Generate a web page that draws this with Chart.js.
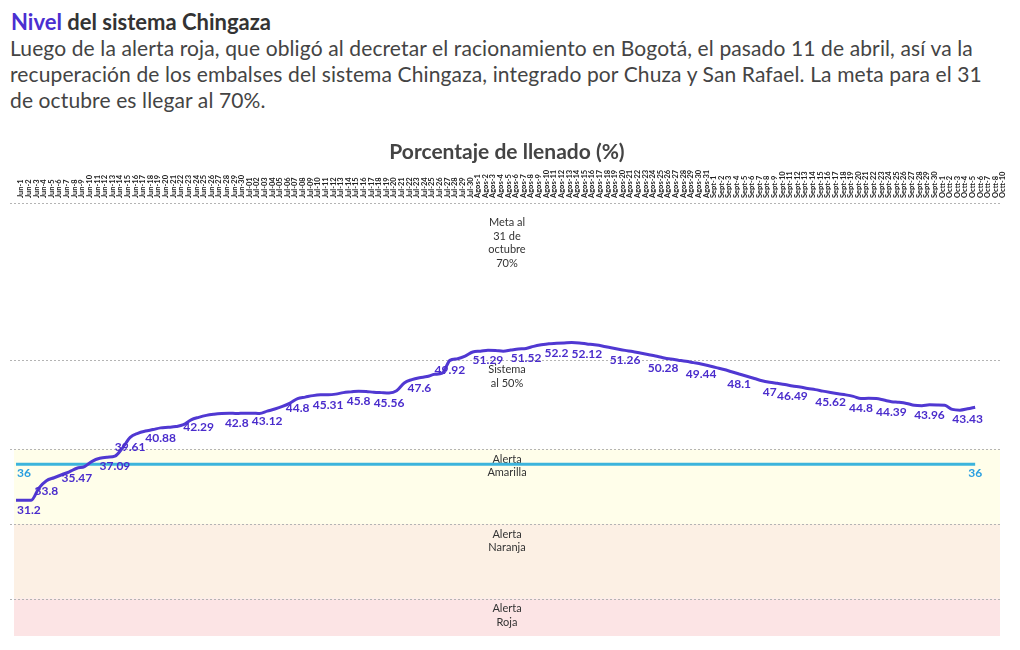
<!DOCTYPE html>
<html lang="es">
<head>
<meta charset="utf-8">
<title>Nivel del sistema Chingaza</title>
<script src="https://cdn.jsdelivr.net/npm/chart.js@4.4.1/dist/chart.umd.min.js"></script>
<style>
  body { margin: 0; background: #fff; font-family: Lato, sans-serif; }
  #titulo { position: absolute; left: 11px; top: 8px; font: 700 22px/28px Lato, sans-serif; color: #333; white-space: nowrap; }
  #titulo .morado { color: #4a2fd1; }
  #subtitulo { position: absolute; left: 10px; top: 35px; font: 400 21px/26px Lato, sans-serif; letter-spacing: 0.12px; color: #444; white-space: nowrap; }
  #grafico { position: absolute; left: 0; top: 136px; }
</style>
</head>
<body>
<div id="titulo"><span class="morado">Nivel</span> del sistema Chingaza</div>
<div id="subtitulo">Luego de la alerta roja, que obligó al decretar el racionamiento en Bogotá, el pasado 11 de abril, así va la<br>recuperación de los embalses del sistema Chingaza, integrado por Chuza y San Rafael. La meta para el 31<br>de octubre es llegar al 70%.</div>
<canvas id="grafico" width="1020" height="504"></canvas>
<script>
// Etiquetas del eje X (días)
const junio = ['Jun-1', 'Jun-2', 'Jun-3', 'Jun-4', 'Jun-5', 'Jun-6', 'Jun-7', 'Jun-8', 'Jun-9', 'Jun-10',
    'Jun-11', 'Jun-12', 'Jun-13', 'Jun-14', 'Jun-15', 'Jun-16', 'Jun-17', 'Jun-18', 'Jun-19', 'Jun-20',
    'Jun-21', 'Jun-22', 'Jun-23', 'Jun-24', 'Jun-25', 'Jun-26', 'Jun-27', 'Jun-28', 'Jun-29', 'Jun-30'];
const julio = ['Jul-01', 'Jul-02', 'Jul-03', 'Jul-04', 'Jul-05', 'Jul-06', 'Jul-07', 'Jul-08', 'Jul-09', 'Jul-10',
    'Jul-11', 'Jul-12', 'Jul-13', 'Jul-14', 'Jul-15', 'Jul-16', 'Jul-17', 'Jul-18', 'Jul-19', 'Jul-20',
    'Jul-21', 'Jul-22', 'Jul-23', 'Jul-24', 'Jul-25', 'Jul-26', 'Jul-27', 'Jul-28', 'Jul-29', 'Jul-30'];
const agosto = ['Agos-1', 'Agos-2', 'Agos-3', 'Agos-4', 'Agos-5', 'Agos-6', 'Agos-7', 'Agos-8', 'Agos-9', 'Agos-10',
    'Agos-11', 'Agos-12', 'Agos-13', 'Agos-14', 'Agos-15', 'Agos-16', 'Agos-17', 'Agos-18', 'Agos-19', 'Agos-20',
    'Agos-21', 'Agos-22', 'Agos-23', 'Agos-24', 'Agos-25', 'Agos-26', 'Agos-27', 'Agos-28', 'Agos-29', 'Agos-30', 'Agos-31'];
const septiembre = ['Sept-1', 'Sept-2', 'Sept-3', 'Sept-4', 'Sept-5', 'Sept-6', 'Sept-7', 'Sept-8', 'Sept-9', 'Sept-10',
    'Sept-11', 'Sept-12', 'Sept-13', 'Sept-14', 'Sept-15', 'Sept-16', 'Sept-17', 'Sept-18', 'Sept-19', 'Sept-20',
    'Sept-21', 'Sept-22', 'Sept-23', 'Sept-24', 'Sept-25', 'Sept-26', 'Sept-27', 'Sept-28', 'Sept-29', 'Sept-30'];
const octubre = ['Octt-1', 'Octt-2', 'Octt-3', 'Octt-4', 'Octt-5', 'Octt-6', 'Octt-7', 'Octt-8', 'Octt-10'];
const dias = [...junio, ...julio, ...agosto, ...septiembre, ...octubre];

// Porcentaje de llenado diario (Jun-1 a Octt-6)
const nivel = [
    31.2, 31.2, 31.2, 32.8, 33.8, 34.2, 34.6, 35.0, 35.47, 35.7,
    36.4, 36.8, 36.95, 37.09, 38.2, 39.61, 40.15, 40.45, 40.65, 40.88,
    40.95, 41.05, 41.3, 41.95, 42.29, 42.55, 42.7, 42.8, 42.85, 42.8,
    42.85, 42.85, 42.8, 43.12, 43.4, 43.75, 44.2, 44.8, 45.0, 45.2,
    45.3, 45.31, 45.4, 45.6, 45.7, 45.8, 45.75, 45.65, 45.6, 45.56,
    45.85, 46.9, 47.35, 47.6, 47.75, 48.05, 48.2, 49.92, 50.15, 50.5,
    51.05, 51.15, 51.29, 51.25, 51.15, 51.3, 51.45, 51.52, 51.8, 52.0,
    52.15, 52.2, 52.25, 52.3, 52.25, 52.12, 52.0, 51.85, 51.65, 51.45,
    51.26, 51.1, 50.9, 50.7, 50.5, 50.28, 50.1, 49.95, 49.8, 49.62,
    49.44, 49.2, 48.95, 48.7, 48.4, 48.1, 47.8, 47.5, 47.2, 47,
    46.85, 46.7, 46.49, 46.35, 46.15, 46.0, 45.8, 45.62, 45.45, 45.3,
    45.1, 44.8, 44.85, 44.8, 44.6, 44.39, 44.3, 44.15, 43.9, 43.85,
    43.96, 43.95, 43.9, 43.35, 43.25, 43.43, 43.65
];
// Puntos con etiqueta de valor
const etiquetasIdx = [0, 4, 8, 13, 15, 19, 24, 29, 33, 37, 41, 45, 49, 53, 57, 62, 67, 71, 75,
    80, 85, 90, 95, 99, 102, 107, 111, 115, 120, 125];

// Línea de alerta amarilla
const alertaDias = ['Jun-1', 'Octt-6'];
const alertaValores = [36, 36];

// Rangos sombreados (límites de arriba a abajo) y sus textos
const rangosLimites = [70, 50, 38, 28, 18, 13];
const rangosTextos = [['Meta al', '31 de', 'octubre', '70%'], ['Sistema', 'al 50%'], ['Alerta', 'Amarilla'],
    ['Alerta', 'Naranja'], ['Alerta', 'Roja']];
const rangosColores = ['rgba(0,0,0,0)', 'rgba(0,0,0,0)', '#fffeea', '#fcf0e4', '#fce4e5'];
const lineasPunteadas = [71, 50, 38, 28, 18];

const morado = '#5038d2';
const celeste = '#3cb4dc';

const rangosPlugin = {
    id: 'rangos',
    beforeDatasetsDraw(chart) {
        const ctx = chart.ctx;
        const y = chart.scales.y;
        const area = chart.chartArea;
        const x0 = area.left - 2;
        const w = area.right - area.left + 4;
        ctx.save();
        for (let k = 0; k < rangosTextos.length; k++) {
            const top = y.getPixelForValue(rangosLimites[k]);
            const bottom = y.getPixelForValue(rangosLimites[k + 1]);
            ctx.fillStyle = rangosColores[k];
            ctx.fillRect(x0, top, w, bottom - top);
        }
        ctx.strokeStyle = '#b4b4b4';
        ctx.lineWidth = 1;
        ctx.setLineDash([2, 2]);
        lineasPunteadas.forEach(function (v) {
            const py = Math.round(y.getPixelForValue(v)) + 0.5;
            ctx.beginPath();
            ctx.moveTo(area.left - 6, py);
            ctx.lineTo(area.right + 2, py);
            ctx.stroke();
        });
        ctx.setLineDash([]);
        ctx.fillStyle = '#333';
        ctx.font = '11px Lato';
        ctx.textAlign = 'center';
        ctx.textBaseline = 'middle';
        const cx = (area.left + area.right) / 2;
        rangosTextos.forEach(function (lineas, k) {
            const top = y.getPixelForValue(rangosLimites[k]) + (k === 0 ? 2 : 0);
            lineas.forEach(function (t, j) {
                ctx.fillText(t, cx, top + 10 + j * 13.5);
            });
        });
        ctx.restore();
    }
};

const etiquetasPlugin = {
    id: 'etiquetas',
    afterDatasetsDraw(chart) {
        const ctx = chart.ctx;
        ctx.save();
        ctx.font = 'bold 12px Lato';
        ctx.textBaseline = 'middle';

        const metaNivel = chart.getDatasetMeta(0);
        ctx.fillStyle = '#4a2ccc';
        etiquetasIdx.forEach(function (i, n) {
            const p = metaNivel.data[i];
            ctx.textAlign = n === 0 ? 'left' : 'center';
            ctx.fillText(String(nivel[i]), p.x + (n === 0 ? 1 : 0), p.y + 10);
        });

        const metaAlerta = chart.getDatasetMeta(1);
        ctx.fillStyle = '#2a9fe0';
        metaAlerta.data.forEach(function (p, n) {
            ctx.textAlign = n === 0 ? 'left' : 'center';
            ctx.fillText(String(alertaValores[n]), p.x + (n === 0 ? 1 : 0), p.y + 9);
        });
        ctx.restore();
    }
};

new Chart(document.getElementById('grafico'), {
    type: 'line',
    data: {
        labels: dias,
        datasets: [{
            label: 'Nivel',
            data: nivel,
            borderColor: morado,
            borderWidth: 3,
            pointRadius: 0,
            cubicInterpolationMode: 'monotone'
        }, {
            label: 'Alerta amarilla',
            data: alertaDias.map(function (d, i) { return { x: d, y: alertaValores[i] }; }),
            borderColor: celeste,
            borderWidth: 3,
            pointRadius: 0
        }]
    },
    options: {
        responsive: false,
        animation: false,
        layout: { padding: { left: 16, right: 22, top: 0, bottom: 4 } },
        plugins: {
            legend: { display: false },
            tooltip: { enabled: false },
            title: {
                display: true,
                text: 'Porcentaje de llenado (%)',
                color: '#444',
                font: { family: 'Lato', size: 21, weight: 'bold' },
                padding: { top: 4, bottom: 0 }
            }
        },
        scales: {
            x: {
                position: 'top',
                grid: { display: false, drawTicks: false },
                border: { display: false },
                ticks: {
                    autoSkip: false,
                    minRotation: 90,
                    maxRotation: 90,
                    padding: 5,
                    labelOffset: 14,
                    color: '#222',
                    font: { family: 'Lato', size: 7.5, weight: 'bold' }
                },
                afterFit: function (scale) { scale.height = 37.8; }
            },
            y: { display: false, min: 13, max: 71 }
        }
    },
    plugins: [rangosPlugin, etiquetasPlugin]
});
</script>
</body>
</html>
